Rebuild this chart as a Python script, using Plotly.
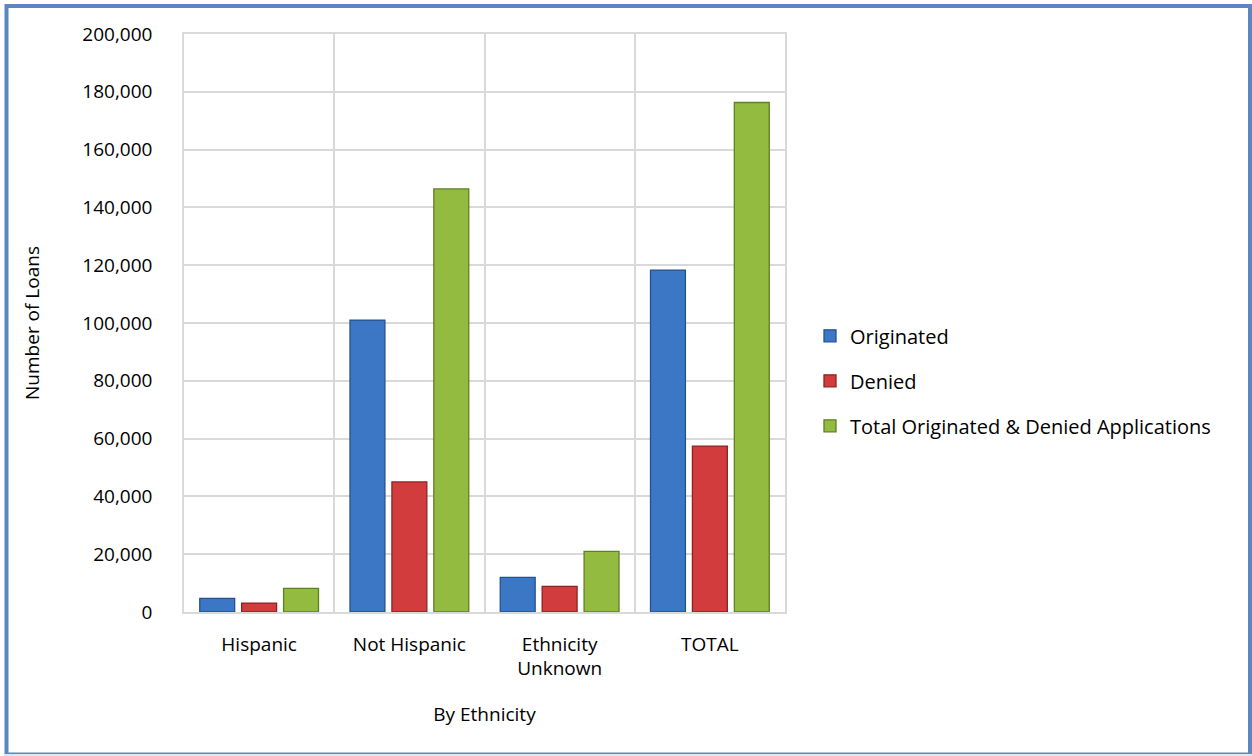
import plotly.graph_objects as go

# Loan counts by ethnicity
categories = ["Hispanic", "Not Hispanic", "Ethnicity<br>Unknown", "TOTAL"]
originated = [4700, 101000, 12000, 118300]
denied = [3100, 45000, 8900, 57400]
total_apps = [8200, 146400, 21000, 176300]

series = [
    ("Originated", originated, "#3b77c4", "#24528f"),
    ("Denied", denied, "#d23c3c", "#8e2222"),
    ("Total Originated & Denied Applications", total_apps, "#93bb40", "#5f7f24"),
]

W, H = 1252, 756
L, R, T, B = 184, 467, 34, 144
FONT = "Open Sans"
FS = 19

fig = go.Figure()
for i, (name, vals, fill, edge) in enumerate(series):
    fig.add_trace(go.Bar(
        name=name,
        x=categories,
        y=vals,
        marker=dict(color=fill, line=dict(color=edge, width=1.3)),
        legendgroup=f"g{i}",
    ))

grid = "#d9d9d9"
fig.update_layout(
    width=W, height=H,
    margin=dict(l=L, r=R, t=T, b=B, autoexpand=False),
    paper_bgcolor="white", plot_bgcolor="white",
    barmode="group", bargap=0.163, bargroupgap=0.167,
    font=dict(family=FONT, size=FS, color="#000000"),
    showlegend=True,
    legend=dict(
        x=(810 - L) / (W - L - R), xanchor="left",
        y=0.40, yanchor="middle",
        traceorder="grouped", tracegroupgap=16,
        font=dict(family=FONT, size=20, color="#000000"),
        itemwidth=30, bgcolor="rgba(0,0,0,0)",
    ),
    xaxis=dict(
        type="category", tickson="boundaries",
        showgrid=True, gridcolor=grid, gridwidth=1.5,
        showline=True, linecolor=grid, linewidth=1.5, mirror=True,
        ticks="", ticklabelstandoff=14, tickfont=dict(size=FS),
        title=dict(text="By Ethnicity", standoff=27, font=dict(size=FS)),
    ),
    yaxis=dict(
        range=[0, 200000], dtick=20000, tickformat=",",
        showgrid=True, gridcolor=grid, gridwidth=1.5,
        showline=True, linecolor=grid, linewidth=1.5, mirror=True,
        ticks="", ticklabelstandoff=26, tickfont=dict(size=FS),
        title=dict(text="Number of Loans", standoff=38, font=dict(size=FS)),
        zeroline=False,
    ),
)

# Outer frame around the chart
pw, ph = W - L - R, H - T - B
def px_x(p):
    return (p - L) / pw
def px_y(p):
    return (H - B - p) / ph

fig.add_shape(type="rect", xref="paper", yref="paper",
              x0=px_x(6.5), x1=px_x(1250), y0=px_y(754.5), y1=px_y(6),
              line=dict(color="#5a87c2", width=4), layer="above")
fig.add_shape(type="line", xref="paper", yref="paper",
              x0=px_x(4), x1=px_x(1252), y0=px_y(755), y1=px_y(755),
              line=dict(color="#dfe6f1", width=2), layer="above")

fig.write_html("out.html")
